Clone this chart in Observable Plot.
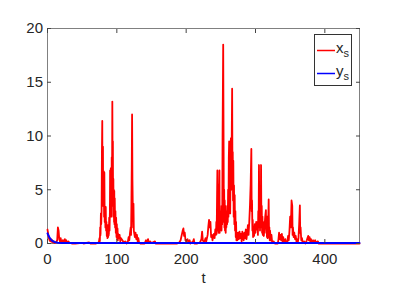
<!DOCTYPE html>
<html>
<head>
<meta charset="utf-8">
<script src="https://cdn.jsdelivr.net/npm/d3@7"></script>
<script src="https://cdn.jsdelivr.net/npm/@observablehq/plot@0.6"></script>
<style>
  body { margin: 0; background: white; }
  #wrap { position: relative; width: 406px; height: 288px; }
  #legend { position: absolute; left: 314px; top: 34px; width: 36px; height: 50px;
    border: 1px solid #333; background: white; font-family: "Liberation Sans", Arial, sans-serif;
    font-size: 15px; color: #262626; }
  .item { position: absolute; left: 2px; height: 16px; }
  .item svg { position: absolute; left: 0; top: 7px; }
  .item span { position: absolute; left: 19px; top: -3px; }
  .item sub { font-size: 11px; vertical-align: -4px; }
</style>
</head>
<body>
<div id="wrap">
  <div id="chart"></div>
  <div id="legend">
    <div class="item" style="top:7px"><svg width="18" height="3"><line x1="0" x2="18" y1="1.5" y2="1.5" stroke="red" stroke-width="1.5"/></svg><span>x<sub>s</sub></span></div>
    <div class="item" style="top:30px"><svg width="18" height="3"><line x1="0" x2="18" y1="1.5" y2="1.5" stroke="blue" stroke-width="1.5"/></svg><span>y<sub>s</sub></span></div>
  </div>
</div>
<script>
const xTicks = [0, 100, 200, 300, 400];
const yTicks = [0, 5, 10, 15, 20];
const seriesNames = ["x_s", "y_s"];

const redT = [0,1,2,3,4,5,6,7,8,9,10,12,14,15,16,17,18,19,20,22,23,25,26,27,28,30,32,35,
  40,50,52,60,62,70,
  74,74.5,75,75.5,76,76.5,77,77.5,78,78.5,79,79.3,79.6,80,80.3,80.6,81,81.3,81.6,82,82.5,83,83.5,84,84.5,85,85.5,86,86.5,87,87.5,88,88.5,89,89.5,90,90.3,90.6,91,91.3,91.6,92,92.3,92.6,93,93.5,94,94.3,94.6,95,95.3,95.6,96,96.3,96.6,97,97.5,98,98.5,99,99.5,100,100.5,101,101.5,102,103,104,105,106,108,110,112,114,
  116,117,118,119,120,120.5,121,121.5,122,122.5,123,123.5,124,124.5,125,126,127,128,129,130,131,132,134,
  140,142,143,145,146,148,150,155,156,160,170,180,187,
  190,192,193,195,196,197,198,199,200,202,203,205,206,210,211,212,216,220,222,223,224,226,228,229,231,232,233,234,235,236,237,238,239,240,241,242,243,243.5,244,244.5,245,245.3,245.6,246,246.5,247,247.5,248,248.3,248.6,249,249.5,250,250.5,251,251.5,252,252.5,253.4,254,254.4,254.8,255.2,255.6,256,256.5,257,257.5,258,258.5,259,259.5,260,260.5,261,261.5,262,262.5,263,263.5,264,264.5,265,265.5,266.3,266.8,267.2,267.6,268,268.5,269,269.5,270,270.5,271,271.5,272,272.5,273,274,275,276,277,278,279,280,281,282,283,284,285,286,287,288,289,290,291,292,293,294,294.5,295,295.5,296,296.5,297,298,299,300,301,302,303,303.5,304,304.5,305,305.5,306,306.5,307,307.5,308,308.5,309,309.5,310,310.5,311,312,313,314,315,315.5,316,316.5,317,317.5,318,319,319.5,320,320.5,321,322,323,324,326,328,
  332,333,334,335,336,337,338,339,340,341,343,344,346,347,348,349,350,351,352,353,353.5,354,355,356,357,358,359,360,361,362,363,364,364.5,365,366,367,368,370,372,374,375,376,377,378,379,380,381,383,384,386,387,390,391,395,450];
const redX = [1.3,0.9,0.5,0.3,0.2,0.4,0.15,0.3,0.1,0.2,0.05,0.1,0.3,1.5,1.2,0.4,0.2,0.5,0.1,0.3,0.1,0.4,0.2,0.3,0.1,0.2,0.05,0,
  0,0.05,0,0.1,0,0,
  0.1,0.3,0.5,0.2,1.5,0.8,2.8,1.8,3.0,8.5,11.4,5,7.5,9.0,3.5,6.7,4,6.7,2.5,6.6,2.0,3.4,1.5,3.4,1.2,2.0,0.7,1.6,0.5,1.7,0.6,1.4,0.8,2.4,1.2,3.0,6.8,2.5,4.5,7.0,3,6,2.5,8,4,13.2,5,9.5,3.5,6,2.5,5.0,2,4.9,1.8,4.2,1.5,3.0,1.0,2.4,0.6,1.8,0.4,1.4,0.3,0.9,0.5,0.8,0.2,0.5,0.3,0.1,0.2,0,
  0.2,0.6,0.3,1.0,1.5,0.8,3.5,7,12.0,6,3.5,1.5,3.7,1.2,1.0,0.6,1.0,0.4,0.8,0.2,0.5,0.1,0,
  0,0.3,0.1,0.4,0.1,0.2,0.05,0.2,0,0,0,0,0,
  0.1,0.3,0.6,1.2,1.4,0.7,1.0,0.3,0.2,0.4,0.1,0.3,0,0.2,0.4,0,0,0.1,0.4,1.1,0.3,0.1,0.5,0.2,0.8,1.6,2.2,1.5,2.0,0.6,0.8,0.3,0.7,0.9,0.5,1.3,0.8,2.0,0.9,4,6.8,1.5,5.5,1.2,3,1.0,4,6.8,1.0,3.5,1.2,2.5,1.5,3.0,1.2,3.5,1.8,10,18.5,9,2,5.0,1.5,4.0,1.2,3.5,1.0,2.8,1.5,3.0,1.8,3.5,2.0,5,2.5,8,9.5,4,7,2.8,6,9.8,5,8,14.4,6,8.5,4,7.7,2.5,5.4,1.8,4.5,1.2,3.0,0.6,2.0,0.3,1.0,0.3,1.0,0.4,1.1,0.5,0.9,0.2,1.1,0.6,0.3,1.0,0.5,1.3,0.4,1.0,1.7,0.8,2.0,3.5,5.5,8.8,3,4,1.2,2.2,0.6,1.5,0.7,1.8,1.0,2.0,1.3,2.0,0.8,3.0,1.5,7.3,2.5,4,1.2,3.5,1.5,7.3,2,3.5,1.0,2.5,0.8,2.0,0.7,1.5,2.5,3.1,1.0,2.5,0.6,2.5,0.5,0.6,4.1,1.0,1.5,0.3,1.2,0.3,0.8,0.1,0.2,0,
  0,0.3,1.0,0.4,0.8,0.3,0.9,0.2,0.6,0.1,0.4,0.1,0.2,0.7,0.3,1.2,2.5,1.5,4.0,3.5,0.8,1.5,0.6,1.0,0.4,0.7,0.2,0.4,0.1,0.5,1.8,3.55,1.0,1.5,0.3,0.5,0.1,0.2,0,0.3,0.5,0.7,0.3,0.6,0.2,0.4,0.1,0.3,0.1,0.3,0.1,0.2,0,0,0];

const blueT = [0,1,2,3,4,5,6,7,8,10,12,15,20,25,450];
const blueY = [0.9,0.75,0.62,0.5,0.4,0.32,0.25,0.2,0.16,0.1,0.06,0.03,0.01,0,0];

const red = redT.map((t, i) => ({t, v: redX[i], s: seriesNames[0]}));
const blue = blueT.map((t, i) => ({t, v: blueY[i], s: seriesNames[1]}));

const chart = Plot.plot({
  width: 406, height: 288,
  marginLeft: 47, marginRight: 47, marginTop: 28, marginBottom: 45,
  x: {domain: [0, 450]},
  y: {domain: [0, 20]},
  style: {fontFamily: "'Liberation Sans', Arial, sans-serif", fontSize: "15px", color: "#262626", background: "white"},
  marks: [
    Plot.frame({stroke: "#808080", strokeWidth: 1}),
    Plot.lineY(red, {x: "t", y: "v", stroke: "red", strokeWidth: 1.8, curve: "linear"}),
    Plot.lineY(blue, {x: "t", y: "v", stroke: "blue", strokeWidth: 2, dy: -0.5}),
    Plot.axisX({ticks: xTicks, tickSize: -4, tickPadding: 13.5, label: null, stroke: "#444"}),
    Plot.axisX({anchor: "top", ticks: xTicks, tickSize: -4, tickFormat: () => "", label: null, stroke: "#444"}),
    Plot.axisY({ticks: yTicks, tickSize: -4, tickPadding: 8.5, label: null, stroke: "#444"}),
    Plot.axisY({anchor: "right", ticks: yTicks, tickSize: -4, tickFormat: () => "", label: null, stroke: "#444"}),
    Plot.text(["t"], {frameAnchor: "bottom", dy: 35, text: d => d, fontSize: 15, lineAnchor: "middle"})
  ]
});
document.getElementById("chart").appendChild(chart);
</script>
</body>
</html>
